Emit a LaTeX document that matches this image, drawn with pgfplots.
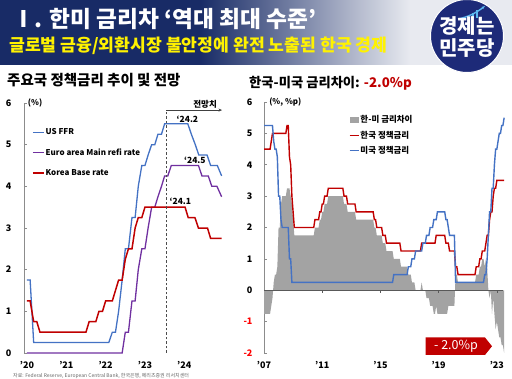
\documentclass[border=0pt]{standalone}
\usepackage{pgfplots}
\pgfplotsset{compat=1.18}
\usepackage{pgfplotstable}
\usepackage{fontspec}
\setmainfont{Noto Sans CJK KR}
\usetikzlibrary{arrows.meta}
\definecolor{navy}{HTML}{182B66}
\definecolor{headlight}{HTML}{E8EAF0}
\definecolor{logonavy}{HTML}{1D2A78}
\definecolor{usblue}{HTML}{4472C4}
\definecolor{eupurple}{HTML}{7030A0}
\definecolor{krred}{HTML}{C00000}
\definecolor{gapgray}{HTML}{A3A3A3}
\definecolor{axgray}{HTML}{8C8C8C}
\definecolor{zerogray}{HTML}{595959}
\definecolor{swoosh}{HTML}{5BB8F0}
\newcommand{\fs}[1]{\fontsize{#1}{#1}\selectfont}

\pgfplotstableread{
t kr us gap
2007.000 4.5 5.25 -0.75
2007.417 4.5 5.25 -0.75
2007.500 4.75 5.25 -0.5
2007.583 5.0 5.25 -0.25
2007.667 5.0 4.75 0.25
2007.750 5.0 4.5 0.5
2007.833 5.0 4.5 0.5
2007.917 5.0 4.25 0.75
2008.000 5.0 3.0 2.0
2008.083 5.0 3.0 2.0
2008.167 5.0 2.25 2.75
2008.250 5.0 2.0 3.0
2008.500 5.0 2.0 3.0
2008.583 5.25 2.0 3.25
2008.667 5.25 2.0 3.25
2008.750 4.25 1.0 3.25
2008.833 4.0 1.0 3.0
2008.917 3.0 0.25 2.75
2009.000 2.5 0.25 2.25
2009.083 2.0 0.25 1.75
2010.417 2.0 0.25 1.75
2010.500 2.25 0.25 2.0
2010.750 2.25 0.25 2.0
2010.833 2.5 0.25 2.25
2010.917 2.5 0.25 2.25
2011.000 2.75 0.25 2.5
2011.083 2.75 0.25 2.5
2011.167 3.0 0.25 2.75
2011.333 3.0 0.25 2.75
2011.417 3.25 0.25 3.0
2012.417 3.25 0.25 3.0
2012.500 3.0 0.25 2.75
2012.667 3.0 0.25 2.75
2012.750 2.75 0.25 2.5
2013.250 2.75 0.25 2.5
2013.333 2.5 0.25 2.25
2014.500 2.5 0.25 2.25
2014.583 2.25 0.25 2.0
2014.667 2.25 0.25 2.0
2014.750 2.0 0.25 1.75
2015.083 2.0 0.25 1.75
2015.167 1.75 0.25 1.5
2015.333 1.75 0.25 1.5
2015.417 1.5 0.25 1.25
2015.833 1.5 0.25 1.25
2015.917 1.5 0.5 1.0
2016.333 1.5 0.5 1.0
2016.417 1.25 0.5 0.75
2016.833 1.25 0.5 0.75
2016.917 1.25 0.75 0.5
2017.083 1.25 0.75 0.5
2017.167 1.25 1.0 0.25
2017.333 1.25 1.0 0.25
2017.417 1.25 1.25 0.0
2017.750 1.25 1.25 0.0
2017.833 1.5 1.25 0.25
2017.917 1.5 1.5 0.0
2018.083 1.5 1.5 0.0
2018.167 1.5 1.75 -0.25
2018.333 1.5 1.75 -0.25
2018.417 1.5 2.0 -0.5
2018.583 1.5 2.0 -0.5
2018.667 1.5 2.25 -0.75
2018.750 1.5 2.25 -0.75
2018.833 1.75 2.25 -0.5
2018.917 1.75 2.5 -0.75
2019.417 1.75 2.5 -0.75
2019.500 1.5 2.25 -0.75
2019.583 1.5 2.25 -0.75
2019.667 1.5 2.0 -0.5
2019.750 1.25 1.75 -0.5
2020.083 1.25 1.75 -0.5
2020.167 0.75 0.25 0.5
2020.250 0.75 0.25 0.5
2020.333 0.5 0.25 0.25
2021.500 0.5 0.25 0.25
2021.583 0.75 0.25 0.5
2021.750 0.75 0.25 0.5
2021.833 1.0 0.25 0.75
2021.917 1.0 0.25 0.75
2022.000 1.25 0.25 1.0
2022.083 1.25 0.25 1.0
2022.167 1.25 0.5 0.75
2022.250 1.5 0.5 1.0
2022.333 1.75 1.0 0.75
2022.417 1.75 1.75 0.0
2022.500 2.25 2.5 -0.25
2022.583 2.5 2.5 0.0
2022.667 2.5 3.25 -0.75
2022.750 3.0 3.25 -0.25
2022.833 3.25 4.0 -0.75
2022.917 3.25 4.5 -1.25
2023.000 3.5 4.5 -1.0
2023.083 3.5 4.75 -1.25
2023.167 3.5 5.0 -1.5
2023.250 3.5 5.0 -1.5
2023.333 3.5 5.25 -1.75
2023.417 3.5 5.25 -1.75
2023.500 3.5 5.5 -2.0
}\gaptable

\pgfplotstableread{
t v
2020.00 1.75
2020.08 1.75
2020.17 0.25
2022.08 0.25
2022.17 0.5
2022.25 0.5
2022.33 1.0
2022.42 1.75
2022.50 2.5
2022.58 2.5
2022.67 3.25
2022.75 3.25
2022.83 4.0
2022.92 4.5
2023.00 4.5
2023.08 4.75
2023.17 5.0
2023.25 5.0
2023.33 5.25
2023.42 5.25
2023.50 5.5
2024.09 5.5
2024.18 5.25
2024.28 5.0
2024.37 4.75
2024.58 4.75
2024.67 4.5
2024.84 4.5
2024.95 4.25
}\ustable

\pgfplotstableread{
t v
2020.00 0
2022.42 0
2022.50 0.5
2022.58 0.5
2022.67 1.25
2022.75 1.25
2022.83 2.0
2022.92 2.5
2023.00 2.5
2023.08 3.0
2023.17 3.5
2023.25 3.5
2023.33 3.75
2023.42 4.0
2023.50 4.25
2023.58 4.25
2023.67 4.5
2024.36 4.5
2024.45 4.25
2024.61 4.25
2024.70 4.0
2024.83 4.0
2024.95 3.75
}\eutable

\pgfplotstableread{
t v
2020.00 1.25
2020.08 1.25
2020.17 0.75
2020.25 0.75
2020.33 0.5
2021.50 0.5
2021.58 0.75
2021.75 0.75
2021.83 1.0
2021.92 1.0
2022.00 1.25
2022.17 1.25
2022.25 1.5
2022.33 1.75
2022.42 1.75
2022.50 2.25
2022.58 2.5
2022.67 2.5
2022.75 3.0
2022.83 3.25
2022.92 3.25
2023.00 3.5
2024.02 3.5
2024.10 3.25
2024.27 3.25
2024.36 3.0
2024.59 3.0
2024.67 2.75
2024.95 2.75
}\krtable

\begin{document}
\begin{tikzpicture}
\clip (0pt,0pt) rectangle (512pt,-379pt);
\fill[white] (0pt,0pt) rectangle (512pt,-379pt);
% header
\fill[navy] (0pt,0pt) rectangle (200pt,-65pt);
\shade[left color=navy, right color=headlight] (199.5pt,0pt) rectangle (410pt,-65pt);
\fill[headlight] (409.5pt,0pt) rectangle (512pt,-65pt);
\node[anchor=west, text=white, font=\fs{22.7}\bfseries, inner sep=0pt] at (12pt,-19pt) {Ⅰ. 한미 금리차 ‘역대 최대 수준’};
\node[anchor=west, text=yellow, font=\fs{17.2}\bfseries, inner sep=0pt] at (9pt,-46pt) {글로벌 금융/외환시장 불안정에 완전 노출된 한국 경제};
% logo
\fill[logonavy, draw=white, line width=1pt] (467pt,-36pt) circle (36.5pt);
\fill[swoosh] (472pt,-18pt) rectangle (474pt,-13pt);
\fill[swoosh] (476pt,-18pt) rectangle (478pt,-10pt);
\draw[swoosh, line width=1.4pt, -{Stealth[length=3.5pt]}] (458pt,-19pt) .. controls (468pt,-17pt) and (476pt,-13pt) .. (485pt,-6pt);
\node[text=white, font=\fs{20}\bfseries, inner sep=0pt] at (467pt,-26pt) {경제는};
\node[text=white, font=\fs{20}\bfseries, inner sep=0pt] at (467pt,-48pt) {민주당};
% chart titles
\node[anchor=west, font=\fs{14.5}\bfseries, inner sep=0pt] at (7pt,-80pt) {주요국 정책금리 추이 및 전망};
\node[anchor=west, font=\fs{13.3}\bfseries, inner sep=0pt] at (249pt,-83pt) {한국-미국 금리차이: \textcolor{krred}{-2.0\%p}};
% source
\node[anchor=west, text=black!60, font=\fs{5}, inner sep=0pt] at (13pt,-376pt) {자료: Federal Reserve, European Central Bank, 한국은행, 메리츠증권 리서치센터};

% LEFT AXIS
\begin{axis}[
  at={(24pt,-353pt)}, anchor=south west, scale only axis,
  width=200pt, height=250pt,
  xmin=2019.924, xmax=2025.01, ymin=0, ymax=6,
  axis lines=left, axis line style={-},
  x axis line style={draw=none},
  y axis line style={draw=axgray, line width=0.7pt},
  xtick={2020,2021,2022,2023,2024},
  xticklabels={’20,’21,’22,’23,’24},
  xtick style={draw=none},
  ytick={0,1,2,3,4,5,6},
  ytick style={draw=axgray, line width=0.6pt},
  tick align=inside, major tick length=3pt,
  tick label style={font=\fs{9}\bfseries},
  yticklabel style={xshift=-9pt},
  xticklabel style={yshift=-5pt},
  /pgf/number format/assume math mode=true,
  legend cell align=left,
  legend style={at={(0.04,0.903)}, anchor=north west, draw=none, fill=none,
    font=\fs{8}\bfseries, row sep=10.5pt, inner sep=0pt,
    nodes={inner sep=1pt}},
  clip=false,
]
\addplot[usblue, line width=1.3pt, legend image code/.code={\draw[usblue, line width=1.3pt] (0pt,0pt) -- (11pt,0pt);}] table[x=t,y=v] {\ustable};
\addlegendentry{US FFR}
\addplot[eupurple, line width=1.3pt, legend image code/.code={\draw[eupurple, line width=1.3pt] (0pt,0pt) -- (11pt,0pt);}] table[x=t,y=v] {\eutable};
\addlegendentry{Euro area Main refi rate}
\addplot[krred, line width=1.5pt, legend image code/.code={\draw[krred, line width=1.5pt] (0pt,0pt) -- (11pt,0pt);}] table[x=t,y=v] {\krtable};
\addlegendentry{Korea Base rate}
\draw[black!70, line width=0.9pt, dash pattern=on 2.5pt off 2pt] (axis cs:2023.54,0) -- (axis cs:2023.54,5.83);
\draw[black!75, line width=0.6pt, -{Stealth[length=3.5pt,width=3pt]}] (axis cs:2023.54,5.83) -- (axis cs:2024.96,5.83);
\node[anchor=south, font=\fs{8.5}\bfseries, inner sep=1.5pt] at (axis cs:2024.53,5.83) {전망치};
\node[font=\fs{8.5}\bfseries, inner sep=0pt] at (axis cs:2024.08,5.61) {‘24.2};
\node[font=\fs{8.5}\bfseries, inner sep=0pt] at (axis cs:2024.27,4.63) {‘24.5};
\node[font=\fs{8.5}\bfseries, inner sep=0pt] at (axis cs:2023.9,3.65) {‘24.1};
\node[anchor=west, font=\fs{8}\bfseries, inner sep=0pt] at (axis cs:2020.02,6) {(\%)};
\end{axis}

% RIGHT AXIS
\begin{axis}[
  at={(264pt,-353pt)}, anchor=south west, scale only axis,
  width=241pt, height=251pt,
  xmin=2007, xmax=2023.56, ymin=-2, ymax=6,
  axis lines=left, axis line style={-},
  x axis line style={draw=none},
  y axis line style={draw=axgray, line width=0.7pt},
  xtick={2007,2011,2015,2019,2023},
  xticklabels={’07,’11,’15,’19,’23},
  xtick style={draw=none},
  ytick={-2,-1,0,1,2,3,4,5,6},
  yticklabels={\textcolor{red}{-2},\textcolor{red}{-1},0,1,2,3,4,5,6},
  ytick style={draw=axgray, line width=0.6pt},
  tick align=inside, major tick length=3pt,
  tick label style={font=\fs{9}\bfseries},
  yticklabel style={xshift=-8pt},
  xticklabel style={yshift=-5pt},
  legend cell align=left,
  legend style={at={(0.352,0.95)}, anchor=north west, draw=none, fill=none,
    font=\fs{8.5}\bfseries, row sep=4.5pt, inner sep=0pt,
    nodes={inner sep=1pt}},
  clip=false,
]
\addplot[fill=gapgray, draw=none, legend image code/.code={\fill[gapgray] (0pt,-3.2pt) rectangle (9pt,3.2pt);}] table[x=t,y=gap] {\gaptable} \closedcycle;
\addlegendentry{한-미 금리차이}
\addplot[krred, line width=1.4pt, legend image code/.code={\draw[krred, line width=1.4pt] (0pt,0pt) -- (9pt,0pt);}] table[x=t,y=kr] {\gaptable};
\addlegendentry{한국 정책금리}
\addplot[usblue, line width=1.4pt, legend image code/.code={\draw[usblue, line width=1.4pt] (0pt,0pt) -- (9pt,0pt);}] table[x=t,y=us] {\gaptable};
\addlegendentry{미국 정책금리}
\draw[zerogray, line width=0.9pt] (axis cs:2007,0) -- (axis cs:2023.4,0);
\draw[zerogray, line width=0.7pt] (axis cs:2011,0) -- ++(0pt,-3pt);
\draw[zerogray, line width=0.7pt] (axis cs:2015,0) -- ++(0pt,-3pt);
\draw[zerogray, line width=0.7pt] (axis cs:2019,0) -- ++(0pt,-3pt);
\draw[zerogray, line width=0.7pt] (axis cs:2023,0) -- ++(0pt,-3pt);
\node[anchor=west, font=\fs{8}\bfseries, inner sep=0pt] at (axis cs:2007.35,6) {(\%, \%p)};
\end{axis}

% red arrow label
\fill[krred] (425.5pt,-337.5pt) -- (485pt,-337.5pt) -- (492pt,-346.2pt) -- (485pt,-355pt) -- (425.5pt,-355pt) -- cycle;
\node[text=white, font=\fs{12.5}, inner sep=0pt] at (456pt,-346.5pt) {- 2.0\%p};
\end{tikzpicture}
\end{document}
